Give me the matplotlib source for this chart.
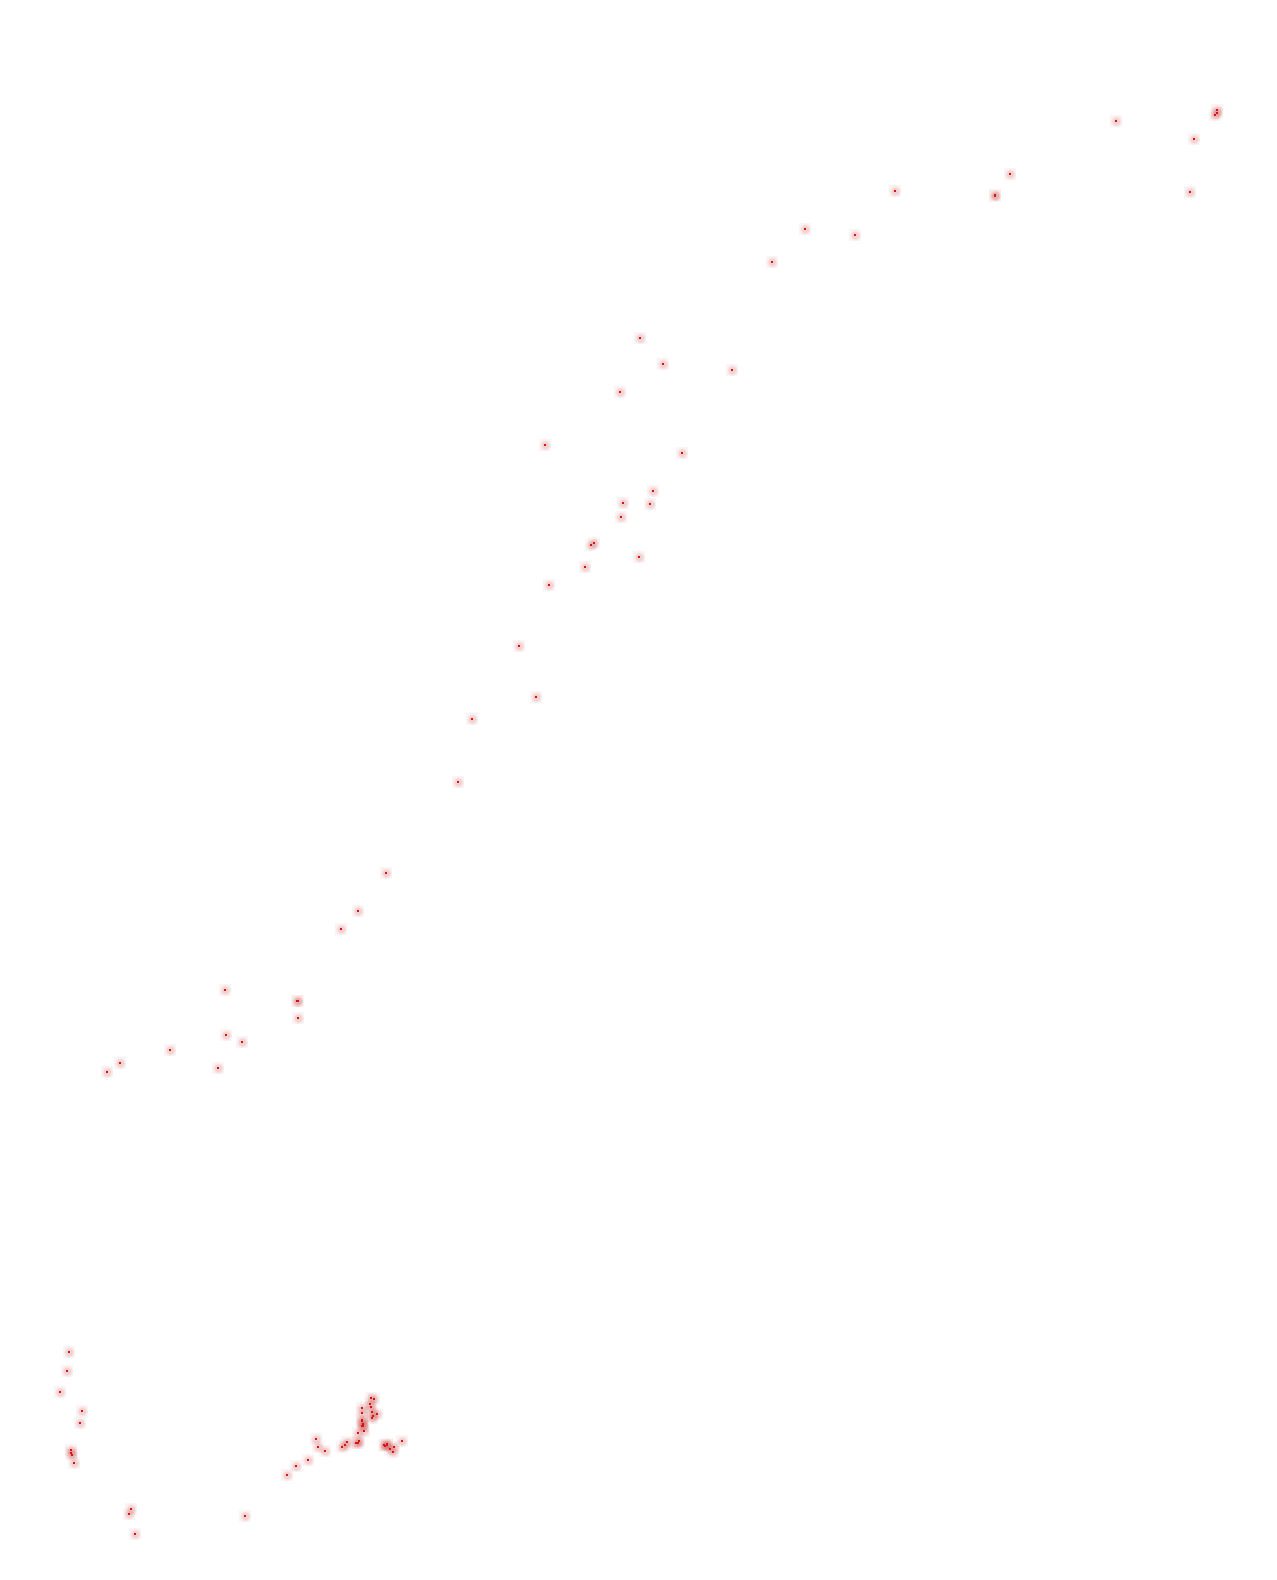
import matplotlib
matplotlib.use("Agg")
import matplotlib.pyplot as plt

# point positions (x to the right, y downwards)
x = [1116.3, 1217.3, 1217.3, 1215.3, 1194.3, 1010.3, 995.3, 995.3, 1190.3,
     895.3, 805.3, 855.3, 772.3,
     640.3, 663.3, 732.3, 620.3, 545.3, 682.3, 653.3, 623.3, 650.3, 621.3,
     594.3, 591.3, 639.3, 585.3, 549.3,
     519.3, 536.3, 472.3, 458.3, 386.3, 358.3, 341.3,
     225.3, 297.3, 298.3, 298.3, 226.3, 242.3, 170.3, 120.3, 107.3, 218.3,
     69.3, 67.3, 60.3, 82.3, 80.3, 71.3, 71.3, 72.3, 74.3,
     131.3, 129.3, 135.3, 245.3,
     287.3, 296.3, 308.3, 316.3, 318.3, 325.3, 342.3, 345.3, 347.3, 356.3,
     358.3, 359.3, 358.3, 364.3, 362.3, 363.3, 363.3, 362.3, 362.3, 362.3,
     362.3, 370.3, 371.3, 371.3, 374.3, 372.3, 373.3, 372.3, 377.3, 384.3,
     385.3, 387.3, 387.3, 390.3, 394.3, 393.3, 402.3]
y = [121.3, 110.3, 113.3, 115.3, 139.3, 174.3, 194.7, 196.3, 192.3,
     191.3, 229.3, 235.3, 262.3,
     338.3, 364.3, 370.3, 392.3, 445.3, 453.3, 491.3, 503.3, 504.3, 517.3,
     543.3, 545.3, 557.3, 567.3, 585.3,
     646.3, 697.3, 719.3, 782.3, 873.3, 911.3, 929.3,
     990.3, 1001.3, 1001.3, 1018.3, 1035.3, 1042.3, 1050.3, 1063.3, 1072.3, 1068.3,
     1352.3, 1371.3, 1392.3, 1411.3, 1423.3, 1450.3, 1453.3, 1455.3, 1463.3,
     1509.3, 1514.3, 1534.3, 1516.3,
     1475.3, 1466.3, 1460.3, 1439.3, 1447.3, 1451.3, 1447.3, 1445.3, 1442.3, 1443.3,
     1443.3, 1441.3, 1433.3, 1431.3, 1426.3, 1426.3, 1424.3, 1421.3, 1420.0, 1413.3,
     1408.3, 1404.3, 1407.3, 1398.3, 1399.3, 1412.3, 1416.3, 1418.3, 1414.3, 1445.3,
     1446.3, 1444.3, 1445.3, 1449.3, 1447.3, 1452.3, 1441.3]

fig = plt.figure(figsize=(12.77, 15.8), dpi=100)
ax = fig.add_axes([0, 0, 1, 1])
ax.set_xlim(0, 1277)
ax.set_ylim(1580, 0)
ax.axis("off")

# soft glow around each point, then the red centre dot
glow = "#d05050"
ax.scatter(x, y, s=85, marker="s", c=glow, alpha=0.06, linewidths=0)
ax.scatter(x, y, s=55, marker="o", c=glow, alpha=0.09, linewidths=0)
ax.scatter(x, y, s=28, marker="o", c=glow, alpha=0.12, linewidths=0)
ax.scatter(x, y, s=0.8, marker="s", c="#dd1010", linewidths=0)

fig.savefig("out.png", dpi=100, facecolor="white")
